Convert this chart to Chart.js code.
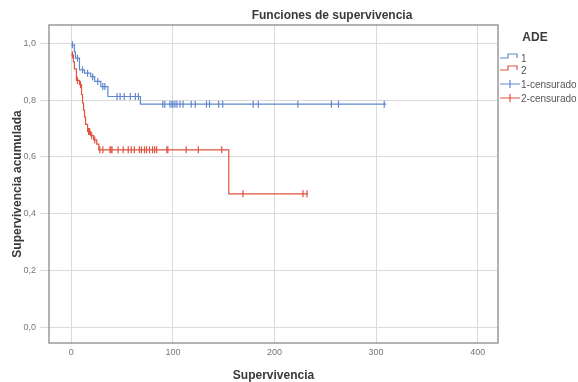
<!DOCTYPE html>
<html>
<head>
<meta charset="utf-8">
<title>Funciones de supervivencia</title>
<script src="https://cdn.jsdelivr.net/npm/chart.js@4.4.1/dist/chart.umd.min.js"></script>
<style>
    html, body { margin: 0; padding: 0; background: #fff; }
    canvas { display: block; }
</style>
</head>
<body>
<canvas id="kmChart" width="578" height="382"></canvas>
<script>
// Kaplan-Meier steps (time at which survival drops, survival after the drop)
const ade1Times = [0, 3, 4, 8, 13, 19, 23, 29, 36, 68, 310];
const ade1Surv = [0.995, 0.97, 0.948, 0.907, 0.895, 0.883, 0.866, 0.848, 0.813, 0.786, 0.786];
const ade1Censored = [1, 6, 11, 16, 21, 26, 31, 33, 45, 48, 52, 58, 63, 66, 90, 92, 97, 99, 100, 102, 104, 107, 110, 118, 122, 133, 136, 145, 149, 179, 184, 223, 256, 263, 308];

const ade2Times = [0, 2, 3, 5, 8, 10, 11, 12, 13, 14, 16, 19, 22, 25, 27, 155, 233];
const ade2Surv = [0.96, 0.935, 0.91, 0.87, 0.855, 0.82, 0.79, 0.765, 0.74, 0.715, 0.69, 0.675, 0.66, 0.645, 0.625, 0.47, 0.47];
const ade2Censored = [1, 6, 9, 17, 18, 20, 23, 28, 31, 38, 39, 40, 46, 51, 56, 59, 62, 67, 69, 72, 74, 77, 80, 82, 84, 94, 95, 113, 125, 148, 169, 228, 232];

const xTickValues = [0, 100, 200, 300, 400];
const yTickValues = [0, 0.2, 0.4, 0.6, 0.8, 1.0];

const legendTitle = "ADE";
const legendLabels = ["1", "2", "1-censurado", "2-censurado"];

const colors = {
    blue: "#5f88cc",
    red: "#e0533f",
    grid: "#dadada",
    frame: "#8a8a8a",
    text: "#3a3a3a",
    tick: "#777777",
};

const fontFamily = 'Arial, "Liberation Sans", sans-serif';

// survival value of the step curve at time t
function survivalAt(times, surv, t) {
    let s = surv[0];
    for (let i = 0; i < times.length; i++) {
        if (times[i] <= t) s = surv[i];
    }
    return s;
}

function stepPoints(times, surv) {
    return times.map((t, i) => ({ x: t, y: surv[i] }));
}

function censorPoints(censored, times, surv) {
    return censored.map((t) => ({ x: t, y: survivalAt(times, surv, t) }));
}

function lineDataset(label, points, color) {
    return {
        label: label,
        data: points,
        showLine: true,
        stepped: "before",
        borderColor: color,
        borderWidth: 1.2,
        pointRadius: 0,
        fill: false,
    };
}

function censorDataset(label, points, color) {
    return {
        label: label,
        data: points,
        showLine: false,
        pointStyle: "line",
        rotation: 90,
        pointRadius: 3.5,
        pointBorderColor: color,
        pointBorderWidth: 1.2,
        borderColor: color,
    };
}

// frame, title and legend drawn SPSS style
const spssDecor = {
    id: "spssDecor",
    afterDatasetsDraw(chart) {
        const { ctx, chartArea } = chart;
        ctx.save();

        ctx.strokeStyle = colors.frame;
        ctx.lineWidth = 1.3;
        ctx.strokeRect(chartArea.left, chartArea.top, chartArea.right - chartArea.left, chartArea.bottom - chartArea.top);

        ctx.fillStyle = colors.text;
        ctx.font = "bold 12px " + fontFamily;
        ctx.textAlign = "center";
        ctx.textBaseline = "middle";
        ctx.fillText("Funciones de supervivencia", 332, 16);

        // legend
        ctx.fillText(legendTitle, 535, 38);

        const x0 = 500;
        const ys = [58, 70, 84, 98];
        const legendColors = [colors.blue, colors.red, colors.blue, colors.red];
        ctx.lineWidth = 1.2;
        ys.forEach((y, i) => {
            ctx.strokeStyle = legendColors[i];
            ctx.beginPath();
            if (i < 2) {
                ctx.moveTo(x0, y);
                ctx.lineTo(x0 + 8, y);
                ctx.lineTo(x0 + 8, y - 4);
                ctx.lineTo(x0 + 17, y - 4);
                ctx.lineTo(x0 + 17, y);
            } else {
                ctx.moveTo(x0, y);
                ctx.lineTo(x0 + 20, y);
                ctx.moveTo(x0 + 10, y - 4);
                ctx.lineTo(x0 + 10, y + 4);
            }
            ctx.stroke();
        });

        ctx.fillStyle = "#555";
        ctx.font = "10px " + fontFamily;
        ctx.textAlign = "left";
        legendLabels.forEach((txt, i) => {
            ctx.fillText(txt, 521, ys[i] + 1);
        });

        ctx.restore();
    },
};

new Chart(document.getElementById("kmChart").getContext("2d"), {
    type: "scatter",
    data: {
        datasets: [
            lineDataset("1", stepPoints(ade1Times, ade1Surv), colors.blue),
            lineDataset("2", stepPoints(ade2Times, ade2Surv), colors.red),
            censorDataset("1-censurado", censorPoints(ade1Censored, ade1Times, ade1Surv), colors.blue),
            censorDataset("2-censurado", censorPoints(ade2Censored, ade2Times, ade2Surv), colors.red),
        ],
    },
    options: {
        responsive: false,
        animation: false,
        layout: {
            padding: { left: 0, right: 80, top: 25, bottom: 0 },
        },
        plugins: {
            legend: { display: false },
            tooltip: { enabled: false },
        },
        scales: {
            x: {
                type: "linear",
                min: -22,
                max: 420,
                afterBuildTicks(scale) {
                    scale.ticks = xTickValues.map((v) => ({ value: v }));
                },
                afterFit(scale) {
                    scale.height = 39;
                },
                ticks: {
                    color: colors.tick,
                    font: { size: 9, family: fontFamily },
                    padding: 4,
                    maxRotation: 0,
                },
                grid: {
                    color: colors.grid,
                    lineWidth: 1,
                    drawTicks: false,
                },
                border: { display: false },
                title: {
                    display: true,
                    text: "Supervivencia",
                    color: colors.text,
                    font: { size: 12, weight: "bold", family: fontFamily, lineHeight: 1 },
                    padding: { top: 0, bottom: 0 },
                },
            },
            y: {
                type: "linear",
                min: -0.056,
                max: 1.065,
                afterBuildTicks(scale) {
                    scale.ticks = yTickValues.map((v) => ({ value: v }));
                },
                afterFit(scale) {
                    scale.width = 49;
                },
                ticks: {
                    color: colors.tick,
                    font: { size: 9, family: fontFamily },
                    padding: 4,
                    callback: (v) => v.toFixed(1).replace(".", ","),
                },
                grid: {
                    color: colors.grid,
                    lineWidth: 1,
                    drawTicks: true,
                    tickLength: 9,
                },
                border: { display: false },
                title: {
                    display: true,
                    text: "Supervivencia acumulada",
                    color: colors.text,
                    font: { size: 12, weight: "bold", family: fontFamily, lineHeight: 1 },
                    padding: { top: 12, bottom: 0 },
                },
            },
        },
    },
    plugins: [spssDecor],
});
</script>
</body>
</html>
